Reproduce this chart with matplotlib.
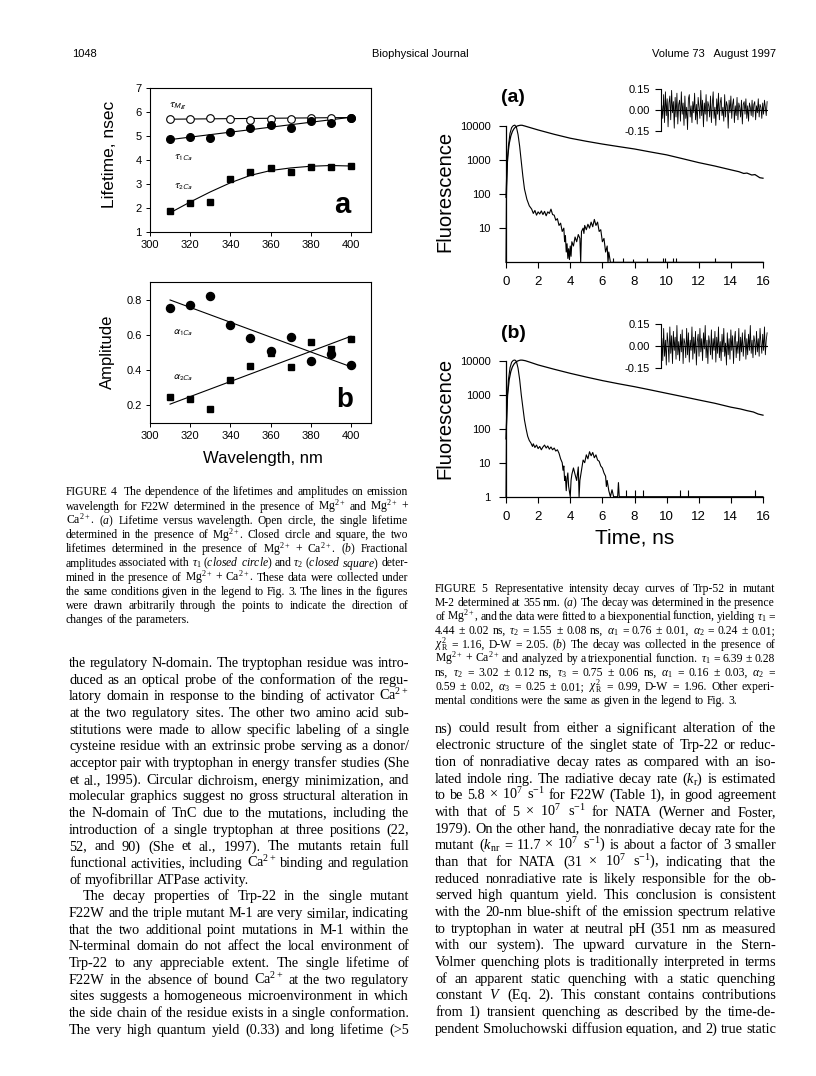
import matplotlib
matplotlib.use("Agg")
import matplotlib.pyplot as plt
from matplotlib.ticker import NullLocator

W, H = 816, 1076
SERIF = "Liberation Serif"
SANS = "Liberation Sans"

plt.rcParams["font.family"] = SANS
plt.rcParams["mathtext.fontset"] = "custom"
plt.rcParams["mathtext.rm"] = SERIF
plt.rcParams["mathtext.it"] = SERIF + ":italic"
plt.rcParams["mathtext.bf"] = SERIF + ":bold"

# ---- Figure 4 data (emission wavelength, nm) ----
wl = [310, 320, 330, 340, 350, 360, 370, 380, 390, 400]
tau_mg = [5.70, 5.70, 5.73, 5.70, 5.68, 5.70, 5.72, 5.74, 5.75, 5.76]
tau1_ca = [4.88, 4.95, 4.92, 5.18, 5.32, 5.45, 5.35, 5.62, 5.55, 5.75]
tau2_ca = [1.88, 2.20, 2.27, 3.20, 3.50, 3.65, 3.52, 3.72, 3.70, 3.76]
# hand drawn guide lines
guide_x = [310, 400]
tau_mg_guide = [5.70, 5.77]
tau1_guide = [4.85, 5.78]
tau2_guide = [1.80, 2.25, 2.67, 3.05, 3.36, 3.56, 3.67, 3.74, 3.77, 3.75]

alpha1_ca = [0.755, 0.770, 0.820, 0.655, 0.580, 0.510, 0.590, 0.450, 0.490, 0.430]
alpha2_ca = [0.245, 0.235, 0.180, 0.345, 0.425, 0.495, 0.415, 0.560, 0.520, 0.575]
alpha1_guide = [0.798, 0.419]
alpha2_guide = [0.207, 0.592]

# ---- Figure 5 data (time, ns) ----
fl_a_t = [0.0, 0.05, 0.1, 0.2, 0.3, 0.4, 0.5, 0.6, 0.7, 0.8, 0.9, 1.0, 1.2, 1.5, 2, 3, 4, 5,
          6, 7, 8, 9, 10, 11, 12, 13, 14, 14.5, 14.8, 15.0, 15.3, 15.5, 15.8, 16]
fl_a = [80, 400, 1200, 3000, 5000, 6800, 8200, 9200, 9800, 10100, 10300, 10300, 9700, 8800,
        7500, 5600, 4300, 3500, 2900, 2450, 2080, 1700, 1400, 1080, 830, 660, 510, 450, 400,
        410, 360, 370, 300, 290]

irf_a_t = [0.0, 0.03, 0.08, 0.15, 0.25, 0.35, 0.45, 0.55, 0.65, 0.75, 0.85, 0.95, 1.05, 1.15,
           1.3, 1.45, 1.6, 1.7, 1.8, 1.9, 2.0, 2.1, 2.2, 2.3, 2.4, 2.5, 2.6, 2.7, 2.8, 2.9, 3.0,
           3.1, 3.2, 3.3, 3.4, 3.5, 3.6, 3.65, 3.7, 3.75, 3.8, 3.85, 3.9, 3.95, 4.0, 4.05, 4.1,
           4.2, 4.3, 4.4, 4.5, 4.6, 4.65, 4.7, 4.8, 4.85, 4.9, 5.0, 5.1, 5.2, 5.3, 5.4, 5.5, 5.6,
           5.7, 5.8, 5.9, 6.0, 6.1, 6.2, 6.3, 6.35, 6.4, 6.5, 16.0]
irf_a = [1, 100, 700, 2500, 6000, 8800, 10000, 10400, 9000, 5500, 2500, 900, 330, 140,
         70, 45, 36, 27, 33, 24, 30, 26, 32, 25, 31, 23, 30, 27, 36, 25, 24,
         17, 19, 12, 14, 8, 10, 4, 6, 2, 3.5, 1.3, 2.5, 1.2, 3, 1.5, 4,
         3, 5.5, 4, 6.5, 5, 1, 8, 10, 7, 12, 9, 13, 10, 15, 11, 18, 12,
         15, 8, 9, 4, 5, 2, 3, 1, 2, 1, 1]
spike_a_t = [6.69, 7.31, 7.93, 8.76, 9.79, 9.89, 10.40, 10.56, 13.0]
spike_a_h = [1.3, 1.3, 1.25, 1.3, 1.35, 1.3, 1.3, 1.35, 1.3]

fl_b_t = [0.0, 0.05, 0.1, 0.2, 0.3, 0.4, 0.5, 0.6, 0.7, 0.8, 0.9, 1.0, 1.2, 1.5, 2, 3, 4, 5,
          6, 7, 8, 9, 10, 11, 12, 13, 14, 14.6, 15.0, 15.4, 15.7, 16]
fl_b = [50, 300, 1000, 2800, 4800, 6600, 8000, 9000, 9700, 10100, 10400, 10400, 10000, 9000,
        7500, 5600, 4250, 3300, 2600, 2100, 1720, 1380, 1100, 880, 700, 560, 430, 380, 340,
        310, 270, 250]

irf_b_t = [0.0, 0.03, 0.08, 0.15, 0.25, 0.35, 0.45, 0.55, 0.65, 0.75, 0.85, 0.95, 1.05, 1.15,
           1.25, 1.35, 1.45, 1.55, 1.65, 1.7, 1.8, 1.9, 2.0, 2.1, 2.2, 2.3, 2.4, 2.5, 2.6, 2.7,
           2.8, 2.9, 3.0, 3.1, 3.2, 3.3, 3.4, 3.5, 3.55, 3.6, 3.65, 3.7, 3.75, 3.8, 3.85, 3.9,
           4.0, 4.05, 4.1, 4.2, 4.3, 4.4, 4.5, 4.55, 4.6, 4.7, 4.8, 4.9, 5.0, 5.1, 5.2, 5.3,
           5.4, 5.5, 5.6, 5.7, 5.8, 5.9, 6.0, 6.1, 6.2, 6.25, 6.3, 6.4, 6.5, 6.6, 6.7, 6.95,
           7.0, 7.05, 16.0]
irf_b = [1, 120, 800, 2700, 6200, 9000, 10200, 10500, 9500, 6000, 2800, 1000, 420, 180,
         100, 60, 45, 38, 30, 36, 28, 33, 26, 30, 24, 29, 33, 27, 31, 25,
         29, 24, 27, 22, 24, 19, 13, 10, 6, 8, 3, 4, 1.5, 3.5, 5, 2,
         1, 3, 4.5, 7, 4.5, 3, 7.5, 1, 3, 6, 12, 10, 17, 13, 21, 16,
         20, 14, 17, 12, 11, 8, 7, 5, 4, 2, 3, 1.5, 1, 1.6, 1, 1,
         2.6, 1, 1]
spike_b_t = [7.46, 8.04, 8.56, 10.82, 11.34, 15.48]
spike_b_h = [1.6, 1.55, 1.6, 1.55, 1.6, 1.6]

res_a = [0.03, -0.06, 0.11, -0.09, 0.13, -0.04, 0.08, -0.12, 0.05, 0.10,
         -0.07, 0.14, -0.02, 0.06, -0.13, 0.09, -0.05, 0.12, -0.10, 0.04,
         0.07, -0.08, 0.13, -0.03, 0.05, -0.11, 0.10, -0.06, 0.02, -0.14,
         0.08, 0.11, -0.05, 0.03, -0.09, 0.06, -0.02, 0.12, -0.07, 0.04,
         -0.10, 0.09, 0.02, -0.06, 0.14, -0.04, 0.07, -0.12, 0.05, -0.03,
         0.11, -0.08, 0.06, 0.03, -0.05, 0.10, -0.09, 0.04, 0.13, -0.06,
         0.02, -0.11, 0.08, -0.03, 0.12, -0.07, 0.05, 0.09, -0.04, 0.02,
         -0.08, 0.11, -0.05, 0.06, 0.03, -0.13, 0.07, -0.02, 0.10, -0.06,
         0.04, 0.08, -0.09, 0.03, -0.04, 0.09, -0.07, 0.05, 0.02, -0.05,
         0.07, -0.10, 0.04, 0.06, -0.03, 0.08, -0.06, 0.03, -0.08, 0.05,
         0.02, -0.04, 0.07, -0.05, 0.04, 0.06, -0.07, 0.03, -0.02, 0.08,
         -0.05, 0.04, 0.02, -0.06, 0.05, -0.03, 0.07, 0.02, -0.04, 0.06]
res_b = [0.05, -0.10, 0.12, -0.07, 0.04, -0.13, 0.09, 0.02, -0.11, 0.13,
         -0.05, 0.07, -0.12, 0.10, -0.03, 0.06, -0.09, 0.14, -0.06, 0.03,
         -0.10, 0.08, -0.04, 0.11, -0.12, 0.05, 0.02, -0.08, 0.12, -0.06,
         0.09, -0.11, 0.04, -0.03, 0.13, -0.09, 0.06, -0.05, 0.10, -0.13,
         0.03, 0.08, -0.07, 0.12, -0.04, 0.05, -0.10, 0.09, -0.02, 0.14,
         -0.08, 0.04, -0.12, 0.07, 0.02, -0.06, 0.11, -0.09, 0.05, -0.03,
         0.10, -0.11, 0.06, -0.05, 0.13, -0.08, 0.03, -0.10, 0.08, -0.04,
         0.12, -0.07, 0.02, -0.13, 0.09, -0.06, 0.05, -0.09, 0.11, -0.03,
         0.07, -0.12, 0.04, 0.10, -0.08, 0.03, -0.05, 0.12, -0.10, 0.06,
         -0.04, 0.09, -0.07, 0.02, 0.11, -0.09, 0.05, -0.06, 0.08, -0.03,
         0.14, -0.05, 0.04, -0.08, 0.07, 0.03, -0.06, 0.10, -0.04, 0.05,
         -0.07, 0.12, 0.02, -0.05, 0.08, -0.03, 0.13, -0.06, 0.04, 0.09]

# ---- page text ----
caption4 = [
    "FIGURE 4  The dependence of the lifetimes and amplitudes on emission",
    "wavelength for F22W determined in the presence of Mg$^{2+}$ and Mg$^{2+}$ +",
    "Ca$^{2+}$. ($a$) Lifetime versus wavelength. Open circle, the single lifetime",
    "determined in the presence of Mg$^{2+}$. Closed circle and square, the two",
    "lifetimes determined in the presence of Mg$^{2+}$ + Ca$^{2+}$. ($b$) Fractional",
    "amplitudes associated with $\\tau_1$ ($closed$ $circle$) and $\\tau_2$ ($closed$ $square$) deter-",
    "mined in the presence of Mg$^{2+}$ + Ca$^{2+}$. These data were collected under",
    "the same conditions given in the legend to Fig. 3. The lines in the figures",
    "were drawn arbitrarily through the points to indicate the direction of",
    "changes of the parameters.",
]
caption5 = [
    "FIGURE 5  Representative intensity decay curves of Trp-52 in mutant",
    "M-2 determined at 355 nm. ($a$) The decay was determined in the presence",
    "of Mg$^{2+}$, and the data were fitted to a biexponential function, yielding $\\tau_1$ =",
    "4.44 ± 0.02 ns, $\\tau_2$ = 1.55 ± 0.08 ns, $\\alpha_1$ = 0.76 ± 0.01, $\\alpha_2$ = 0.24 ± 0.01;",
    "$\\chi^2_\\mathrm{R}$ = 1.16, D-W = 2.05. ($b$) The decay was collected in the presence of",
    "Mg$^{2+}$ + Ca$^{2+}$ and analyzed by a triexponential function. $\\tau_1$ = 6.39 ± 0.28",
    "ns, $\\tau_2$ = 3.02 ± 0.12 ns, $\\tau_3$ = 0.75 ± 0.06 ns, $\\alpha_1$ = 0.16 ± 0.03, $\\alpha_2$ =",
    "0.59 ± 0.02, $\\alpha_3$ = 0.25 ± 0.01; $\\chi^2_\\mathrm{R}$ = 0.99, D-W = 1.96. Other experi-",
    "mental conditions were the same as given in the legend to Fig. 3.",
]
body_left = [
    "the regulatory N-domain. The tryptophan residue was intro-",
    "duced as an optical probe of the conformation of the regu-",
    "latory domain in response to the binding of activator Ca$^{2+}$",
    "at the two regulatory sites. The other two amino acid sub-",
    "stitutions were made to allow specific labeling of a single",
    "cysteine residue with an extrinsic probe serving as a donor/",
    "acceptor pair with tryptophan in energy transfer studies (She",
    "et al., 1995). Circular dichroism, energy minimization, and",
    "molecular graphics suggest no gross structural alteration in",
    "the N-domain of TnC due to the mutations, including the",
    "introduction of a single tryptophan at three positions (22,",
    "52, and 90) (She et al., 1997). The mutants retain full",
    "functional activities, including Ca$^{2+}$ binding and regulation",
    "of myofibrillar ATPase activity.",
    "The decay properties of Trp-22 in the single mutant",
    "F22W and the triple mutant M-1 are very similar, indicating",
    "that the two additional point mutations in M-1 within the",
    "N-terminal domain do not affect the local environment of",
    "Trp-22 to any appreciable extent. The single lifetime of",
    "F22W in the absence of bound Ca$^{2+}$ at the two regulatory",
    "sites suggests a homogeneous microenvironment in which",
    "the side chain of the residue exists in a single conformation.",
    "The very high quantum yield (0.33) and long lifetime (>5",
]
body_right = [
    "ns) could result from either a significant alteration of the",
    "electronic structure of the singlet state of Trp-22 or reduc-",
    "tion of nonradiative decay rates as compared with an iso-",
    "lated indole ring. The radiative decay rate ($k_\\mathrm{r}$) is estimated",
    "to be 5.8 × 10$^7$ s$^{-1}$ for F22W (Table 1), in good agreement",
    "with that of 5 × 10$^7$ s$^{-1}$ for NATA (Werner and Foster,",
    "1979). On the other hand, the nonradiative decay rate for the",
    "mutant ($k_\\mathrm{nr}$ = 11.7 × 10$^7$ s$^{-1}$) is about a factor of 3 smaller",
    "than that for NATA (31 × 10$^7$ s$^{-1}$), indicating that the",
    "reduced nonradiative rate is likely responsible for the ob-",
    "served high quantum yield. This conclusion is consistent",
    "with the 20-nm blue-shift of the emission spectrum relative",
    "to tryptophan in water at neutral pH (351 nm as measured",
    "with our system). The upward curvature in the Stern-",
    "Volmer quenching plots is traditionally interpreted in terms",
    "of an apparent static quenching with a static quenching",
    "constant $V$ (Eq. 2). This constant contains contributions",
    "from 1) transient quenching as described by the time-de-",
    "pendent Smoluchowski diffusion equation, and 2) true static",
]

fig = plt.figure(figsize=(W / 100, H / 100), dpi=100)


def box(left, top, right, bottom):
    return [left / W, 1 - bottom / H, (right - left) / W, (bottom - top) / H]


def put(px, py, s, **kw):
    return fig.text(px / W, 1 - py / H, s, **kw)


def justify(lines, x0, x1, y0, dy, size, flush=(), indent=()):
    rend = fig.canvas.get_renderer()
    space = size * 0.25 * 100 / 72
    for i, line in enumerate(lines):
        yb = 1 - (y0 + i * dy) / H
        xs = x0 + (14 if i in indent else 0)
        words = line.split(" ")
        texts = [fig.text(0, yb, w, family=SERIF, size=size, va="baseline")
                 for w in words]
        widths = [t.get_window_extent(rend).width if w else 0
                  for t, w in zip(texts, words)]
        if i in flush or len(words) == 1:
            gap = space
        else:
            gap = (x1 - xs - sum(widths)) / (len(words) - 1)
        x = xs
        for t, w in zip(texts, widths):
            t.set_x(x / W)
            x += w + gap


# ---- running head ----
put(72, 57, "1048", size=8, va="baseline")
put(420, 57, "Biophysical Journal", size=8, va="baseline", ha="center")
put(776, 57, "Volume 73   August 1997", size=8, va="baseline", ha="right")

# ---- Figure 4a ----
lw = 0.8
ax = fig.add_axes(box(150, 88, 371, 232))
ax.plot(guide_x, tau_mg_guide, color="k", lw=lw)
ax.plot(guide_x, tau1_guide, color="k", lw=lw)
ax.plot(wl, tau2_guide, color="k", lw=lw)
ax.plot(wl, tau_mg, "o", mfc="white", mec="k", mew=0.8, ms=5.5)
ax.plot(wl, tau1_ca, "o", color="k", ms=5.5)
ax.plot(wl, tau2_ca, "s", color="k", ms=4.8)
ax.set_xlim(300, 410)
ax.set_ylim(1, 7)
ax.set_xticks(range(300, 401, 20))
ax.set_yticks(range(1, 8))
ax.tick_params(direction="out", length=3, width=0.7, labelsize=8, pad=3)
for sp in ax.spines.values():
    sp.set_linewidth(0.8)
put(110, 154, "Lifetime, nsec", size=12.5, rotation=90, ha="center", va="center")
put(178, 106, r"$\tau_\mathsf{Mg}$", size=7.5, ha="center", va="center", math_fontfamily="stixsans")
put(183, 158, r"$\tau_\mathsf{1Ca}$", size=7.5, ha="center", va="center", math_fontfamily="stixsans")
put(183, 187, r"$\tau_\mathsf{2Ca}$", size=7.5, ha="center", va="center", math_fontfamily="stixsans")
put(342, 205, "a", size=21, weight="bold", ha="center", va="center")

# ---- Figure 4b ----
ax = fig.add_axes(box(150, 282, 371, 423))
ax.plot(guide_x, alpha1_guide, color="k", lw=lw)
ax.plot(guide_x, alpha2_guide, color="k", lw=lw)
ax.plot(wl, alpha1_ca, "o", color="k", ms=5.8)
ax.plot(wl, alpha2_ca, "s", color="k", ms=5)
ax.set_xlim(300, 410)
ax.set_ylim(0.1, 0.9)
ax.set_xticks(range(300, 401, 20))
ax.set_yticks([0.2, 0.4, 0.6, 0.8])
ax.set_yticklabels(["0.2", "0.4", "0.6", "0.8"])
ax.tick_params(direction="out", length=3, width=0.7, labelsize=8, pad=3)
for sp in ax.spines.values():
    sp.set_linewidth(0.8)
put(107, 352, "Amplitude", size=12, rotation=90, ha="center", va="center")
put(263, 458, "Wavelength, nm", size=12, ha="center", va="center")
put(183, 333, r"$\alpha_\mathsf{1Ca}$", size=7.5, ha="center", va="center", math_fontfamily="stixsans")
put(183, 378, r"$\alpha_\mathsf{2Ca}$", size=7.5, ha="center", va="center", math_fontfamily="stixsans")
put(345, 400, "b", size=20, weight="bold", ha="center", va="center")


# ---- Figure 5 panels ----
def decay_panel(top, bottom, fl_t, fl, irf_t, irf, sp_t, sp_h, ylabels):
    ax = fig.add_axes(box(506, top, 763, bottom))
    ax.plot(fl_t, fl, color="k", lw=0.9, clip_on=False)
    ax.plot(irf_t, irf, color="k", lw=0.8, clip_on=False)
    ax.vlines(sp_t, 1, sp_h, color="k", lw=0.8)
    ax.set_yscale("log")
    ax.set_xlim(0, 16)
    ax.set_ylim(1, 10000)
    ax.yaxis.set_minor_locator(NullLocator())
    ax.set_yticks(ylabels)
    ax.set_yticklabels([str(v) for v in ylabels])
    ax.set_xticks(range(0, 17, 2))
    for s in ("top", "right"):
        ax.spines[s].set_visible(False)
    for s in ("left", "bottom"):
        ax.spines[s].set_linewidth(0.9)
    ax.tick_params(axis="y", direction="out", length=5, width=0.8, labelsize=8, pad=6)
    ax.tick_params(axis="x", direction="out", length=4, width=0.8, labelsize=9.5, pad=6)
    ax.patch.set_alpha(0)
    return ax


def residual_panel(top, bottom, res):
    ax = fig.add_axes(box(661, top, 768, bottom))
    ax.plot(range(len(res)), res, color="k", lw=0.6)
    ax.axhline(0, color="k", lw=0.8)
    ax.set_xlim(-1, len(res))
    ax.set_ylim(-0.15, 0.15)
    ax.set_yticks([-0.15, 0.0, 0.15])
    ax.set_yticklabels(["-0.15", "0.00", "0.15"])
    ax.set_xticks([])
    for s in ("top", "right", "bottom"):
        ax.spines[s].set_visible(False)
    ax.spines["left"].set_linewidth(0.8)
    ax.tick_params(axis="y", direction="out", length=4, width=0.8, labelsize=8, pad=4)
    ax.patch.set_alpha(0)


decay_panel(125.7, 262.3, fl_a_t, fl_a, irf_a_t, irf_a, spike_a_t, spike_a_h,
            [10, 100, 1000, 10000])
residual_panel(89, 131, res_a)
put(445, 191, "Fluorescence", size=14.5, rotation=90, ha="center", va="center")
put(513, 97, "(a)", size=14, weight="bold", ha="center", va="center")

decay_panel(360.7, 496.7, fl_b_t, fl_b, irf_b_t, irf_b, spike_b_t, spike_b_h,
            [1, 10, 100, 1000, 10000])
residual_panel(324, 368, res_b)
put(445, 418, "Fluorescence", size=14.5, rotation=90, ha="center", va="center")
put(513, 333, "(b)", size=14, weight="bold", ha="center", va="center")
put(635, 538, "Time, ns", size=15, ha="center", va="center")

# ---- captions and body text ----
justify(caption4, 66, 408, 495.5, 14.2, 8.4, flush=(9,))
justify(caption5, 435, 775, 592, 14.0, 8.4, flush=(8,))
justify(body_left, 69, 409, 667, 16.67, 10.3, flush=(13,), indent=(14,))
justify(body_right, 435, 776, 732.5, 16.67, 10.3)

fig.savefig("out.png", dpi=100)
